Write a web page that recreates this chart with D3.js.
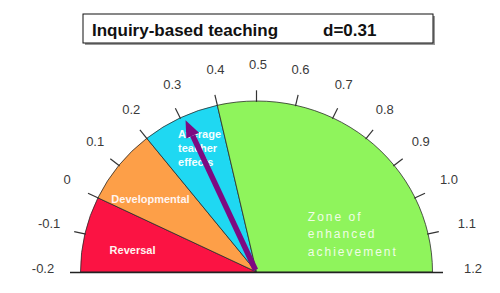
<!DOCTYPE html>
<html><head><meta charset="utf-8">
<script src="https://cdn.jsdelivr.net/npm/d3@7"></script>
<style>html,body{margin:0;padding:0;background:#fff;}svg{display:block;}</style>
</head><body>
<svg id="chart" width="500" height="293"></svg>
<script>
// ---- data ----
const title = "Inquiry-based teaching";
const effectLabel = "d=0.31";
const effect = 0.31;
const zoneNames = ["Reversal", "Developmental", "Average teacher effects", "Zone of enhanced achievement"];
const zoneStart = [-0.2, 0.0, 0.2, 0.4];
const zoneEnd = [0.0, 0.2, 0.4, 1.2];
const tickValues = [-0.2, -0.1, 0, 0.1, 0.2, 0.3, 0.4, 0.5, 0.6, 0.7, 0.8, 0.9, 1.0, 1.1, 1.2];
const tickLabels = ["-0.2", "-0.1", "0", "0.1", "0.2", "0.3", "0.4", "0.5", "0.6", "0.7", "0.8", "0.9", "1.0", "1.1", "1.2"];

// ---- layout / style ----
const colors = ["#fb1343", "#fd9f48", "#1fd8f2", "#8ff45c"];
const font = "Liberation Sans, Arial, sans-serif";
const cx = 256.5, cy = 272, rx = 176, ry = 171, k = ry / rx;
const svg = d3.select("#chart");
const angle = d3.scaleLinear().domain([-0.2, 1.2]).range([-Math.PI / 2, Math.PI / 2]);
const pt = (v, r, rxl = r, ryl = r * k, ox = 0) => {
  const a = angle(v);
  return [cx + ox + rxl * Math.sin(a), cy - ryl * Math.cos(a)];
};
// label ring: horizontal reach grows toward the sides
const labelPos = v => {
  const a = angle(v), s = Math.sin(a), c = Math.cos(a);
  return [cx + 1.5 + (184 + 31 * Math.abs(s)) * s, cy - 204 * c + 1];
};

// title box
svg.append("rect").attr("x", 85).attr("y", 16).attr("width", 350).attr("height", 29).attr("fill", "#9a9a9a");
svg.append("rect").attr("x", 83).attr("y", 14).attr("width", 350).attr("height", 29)
  .attr("fill", "#fff").attr("stroke", "#111").attr("stroke-width", 1);
svg.append("text").attr("x", 92).attr("y", 36).text(title)
  .attr("font-family", font).attr("font-weight", "bold").attr("font-size", 17).attr("fill", "#111");
svg.append("text").attr("x", 323).attr("y", 36).text(effectLabel)
  .attr("font-family", font).attr("font-weight", "bold").attr("font-size", 17).attr("fill", "#111");

// gauge
const g = svg.append("g").attr("transform", `translate(${cx},${cy}) scale(1,${k})`);
const arc = d3.arc().innerRadius(0).outerRadius(rx);
g.selectAll("path.zone").data(zoneNames).join("path")
  .attr("class", "zone")
  .attr("d", (d, i) => arc({startAngle: angle(zoneStart[i]), endAngle: angle(zoneEnd[i])}))
  .attr("fill", (d, i) => colors[i])
  .attr("stroke", "#2a2a2a").attr("stroke-width", 0.8);

// baseline
svg.append("line").attr("x1", 70).attr("x2", 443).attr("y1", cy + 0.5).attr("y2", cy + 0.5)
  .attr("stroke", "#222").attr("stroke-width", 1.5);

// ticks
svg.selectAll("line.tick").data(tickValues.filter(v => v > -0.2 && v < 1.2)).join("line")
  .attr("class", "tick")
  .attr("x1", d => pt(d, rx - 1)[0]).attr("y1", d => pt(d, rx - 1)[1])
  .attr("x2", d => pt(d, rx + 11)[0]).attr("y2", d => pt(d, rx + 11)[1])
  .attr("stroke", "#333").attr("stroke-width", 1.2);

// tick labels
svg.selectAll("text.tl").data(tickValues).join("text")
  .attr("class", "tl")
  .attr("x", d => labelPos(d)[0])
  .attr("y", d => labelPos(d)[1])
  .attr("text-anchor", "middle")
  .attr("font-family", font).attr("font-size", 13).attr("fill", "#3a3a3a")
  .text((d, i) => tickLabels[i]);

// zone labels
const zoneLabelPos = [
  {v: -0.12, r: 126},
  {v: 0.075, r: 130},
  {v: 0.305, r: 138, dx: -20, dy: -13},
  {v: 0.9, r: 104, dx: -30, dy: 12}
];
zoneLabelPos.forEach((p, i) => {
  const [x, y] = pt(p.v, p.r);
  if (i < 2) {
    svg.append("text").attr("x", x).attr("y", y + 4).attr("text-anchor", "middle")
      .attr("font-family", font).attr("font-weight", "bold").attr("font-size", 11)
      .attr("fill", "#fff4f0").text(zoneNames[i]);
  } else if (i === 2) {
    ["Average", "teacher", "effects"].forEach((w, j) => {
      svg.append("text").attr("x", x + p.dx).attr("y", y + p.dy + j * 14)
        .attr("font-family", font).attr("font-weight", "bold").attr("font-size", 11)
        .attr("fill", "#f4feff").text(w);
    });
  } else {
    ["Zone of", "enhanced", "achievement"].forEach((w, j) => {
      svg.append("text").attr("x", x + p.dx).attr("y", y + p.dy + j * 17.5)
        .attr("font-family", font).attr("font-size", 12)
        .attr("letter-spacing", 2).attr("fill", "#effde6").text(w);
    });
  }
});

// needle
const tip = pt(effect, rx * 0.975);
const base = [cx - 1, cy - 2];
const ang = Math.atan2(tip[1] - base[1], tip[0] - base[0]);
const headLen = 17, headW = 7;
const hb = [tip[0] - headLen * Math.cos(ang), tip[1] - headLen * Math.sin(ang)];
svg.append("line").attr("x1", base[0]).attr("y1", base[1]).attr("x2", hb[0]).attr("y2", hb[1])
  .attr("stroke", "#7d0a82").attr("stroke-width", 5.5);
const nx = -Math.sin(ang), ny = Math.cos(ang);
svg.append("path")
  .attr("d", d3.line()([tip, [hb[0] + nx * headW, hb[1] + ny * headW], [hb[0] - nx * headW, hb[1] - ny * headW]]) + "Z")
  .attr("fill", "#7d0a82");
</script>
</body></html>
